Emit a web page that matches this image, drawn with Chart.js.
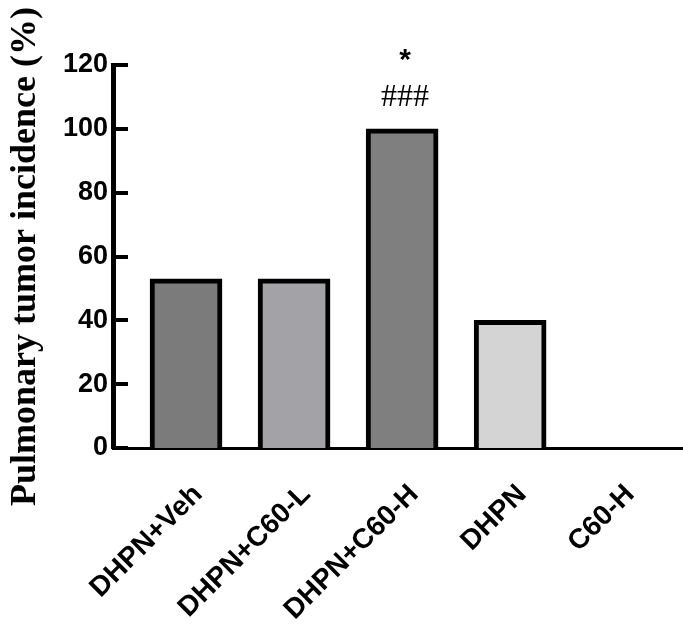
<!DOCTYPE html>
<html>
<head>
<meta charset="utf-8">
<script src="https://cdn.jsdelivr.net/npm/chart.js@4"></script>
<style>
  html, body { margin: 0; padding: 0; background: #fff; }
  #wrap { width: 683px; height: 633px; }
</style>
</head>
<body>
<div id="wrap"><canvas id="c" width="683" height="633"></canvas></div>
<script>
// Treatment groups and pulmonary tumor incidence (%)
const groups = ['DHPN+Veh', 'DHPN+C60-L', 'DHPN+C60-H', 'DHPN', 'C60-H'];
const incidence = [53, 53, 100, 40, 0];
const barColors = ['#7b7b7b', '#a3a3a7', '#7f7f7f', '#d4d4d4', '#8a8a8a'];
const yTicks = [0, 20, 40, 60, 80, 100, 120];
// significance marks above each bar (top line, second line)
const marks = [null, null, ['*', '###'], null, null];

// inward tick marks on the y axis and significance marks over bars
const decor = {
  id: 'decor',
  afterDatasetsDraw(chart) {
    const { ctx, scales: { y } } = chart;
    ctx.save();
    ctx.strokeStyle = '#000';
    ctx.lineWidth = 4;
    yTicks.forEach(v => {
      const py = Math.round(y.getPixelForValue(v));
      ctx.beginPath();
      ctx.moveTo(y.right, py);
      ctx.lineTo(y.right + 15, py);
      ctx.stroke();
    });
    const meta = chart.getDatasetMeta(0);
    ctx.fillStyle = '#000';
    ctx.textAlign = 'center';
    ctx.textBaseline = 'middle';
    marks.forEach((m, i) => {
      if (!m) return;
      const bar = meta.data[i];
      ctx.font = 'bold 30px "Liberation Sans", Arial, sans-serif';
      ctx.fillText(m[0], bar.x + 3, bar.y - 68);
      ctx.font = '32px "Liberation Serif", "Times New Roman", serif';
      ctx.fillText(m[1], bar.x + 3, bar.y - 31);
    });
    ctx.restore();
  }
};

new Chart(document.getElementById('c'), {
  type: 'bar',
  data: {
    datasets: [{
      data: incidence.map((v, i) => ({ x: i, y: v })),
      backgroundColor: barColors,
      borderColor: '#000',
      borderWidth: 5,
      borderSkipped: 'start',
      barThickness: 72
    }]
  },
  options: {
    responsive: false,
    devicePixelRatio: 1,
    animation: false,
    layout: { padding: { top: 65, right: 0, bottom: 0, left: 0 } },
    plugins: {
      legend: { display: false },
      tooltip: { enabled: false }
    },
    scales: {
      x: {
        type: 'linear',
        offset: false,
        min: -0.676,
        max: 4.6,
        afterBuildTicks: s => { s.ticks = groups.map((_, i) => ({ value: i })); },
        afterFit: s => { s.height = 185; },
        grid: { display: false, drawTicks: false, offset: false },
        border: { display: true, color: '#000', width: 3 },
        ticks: {
          autoSkip: false,
          minRotation: 45,
          maxRotation: 45,
          padding: 30,
          labelOffset: 12,
          color: '#000',
          font: { family: '"Liberation Sans", Arial, sans-serif', size: 28, weight: 'bold' },
          callback: v => groups[Math.round(v)]
        }
      },
      y: {
        min: 0,
        max: 120,
        afterBuildTicks: s => { s.ticks = yTicks.map(v => ({ value: v })); },
        afterFit: s => { s.width = 113; },
        grid: { display: false, drawTicks: false },
        border: { display: true, color: '#000', width: 5 },
        ticks: {
          padding: 5,
          color: '#000',
          font: { family: '"Liberation Sans", Arial, sans-serif', size: 27, weight: 'bold' }
        },
        title: {
          display: true,
          text: 'Pulmonary tumor incidence (%)',
          color: '#000',
          padding: { top: 4, bottom: 0 },
          font: { family: '"Liberation Serif", "Times New Roman", serif', size: 36, weight: 'bold' }
        }
      }
    }
  },
  plugins: [decor]
});
</script>
</body>
</html>
